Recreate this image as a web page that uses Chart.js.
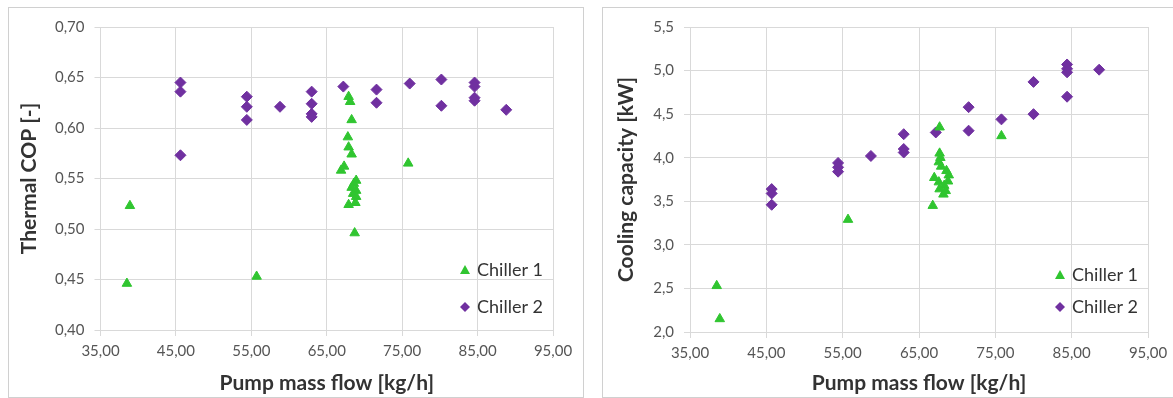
<!DOCTYPE html>
<html>
<head>
<meta charset="utf-8">
<script src="https://cdn.jsdelivr.net/npm/chart.js@4/dist/chart.umd.min.js"></script>
<style>
  body { margin: 0; background: #fff; width: 1173px; height: 398px; overflow: hidden; position: relative; }
  .panel { position: absolute; border: 1px solid #d0d0d0; width: 574px; height: 389px; }
  .panel canvas { position: absolute; left: 0; top: 0; }
  #p1 { left: 8px; top: 7px; }
  #p2 { left: 602px; top: 7px; }
</style>
</head>
<body>
<div class="panel" id="p1"><canvas id="copChart" width="574" height="389"></canvas></div>
<div class="panel" id="p2"><canvas id="capChart" width="574" height="389"></canvas></div>
<script>
// Data
const seriesNames = ['Chiller 1', 'Chiller 2'];

// Chiller 1 - pump mass flow [kg/h] vs thermal COP
const c1FlowCop = [38.5, 38.9, 55.7, 75.8, 67.9, 68.1, 68.3, 67.8, 67.9, 68.3, 66.9, 67.3, 68.9, 68.6, 68.3, 68.9, 68.5, 68.9, 67.9, 68.8, 68.7];
const c1Cop     = [0.446, 0.523, 0.453, 0.565, 0.631, 0.626, 0.608, 0.591, 0.581, 0.574, 0.558, 0.562, 0.548, 0.545, 0.541, 0.538, 0.535, 0.532, 0.524, 0.526, 0.496];

// Chiller 2 - pump mass flow [kg/h] vs thermal COP
const c2FlowCop = [45.6, 45.6, 45.6, 54.4, 54.4, 54.4, 58.8, 63.0, 63.0, 63.0, 63.0, 67.2, 71.6, 71.6, 76.0, 80.2, 80.2, 84.6, 84.6, 84.6, 84.6, 88.8];
const c2Cop     = [0.645, 0.636, 0.573, 0.631, 0.621, 0.608, 0.621, 0.636, 0.624, 0.614, 0.611, 0.641, 0.638, 0.625, 0.644, 0.648, 0.622, 0.645, 0.641, 0.630, 0.627, 0.618];

// Chiller 1 - pump mass flow [kg/h] vs cooling capacity [kW]
const c1FlowCap = [38.5, 38.9, 55.7, 75.8, 67.7, 67.7, 67.8, 67.6, 67.9, 68.6, 68.9, 67.0, 68.8, 67.6, 68.3, 67.7, 68.2, 68.5, 66.8];
const c1Cap     = [2.53, 2.15, 3.29, 4.25, 4.35, 4.05, 4.00, 3.95, 3.90, 3.85, 3.80, 3.77, 3.73, 3.72, 3.68, 3.64, 3.58, 3.62, 3.45];

// Chiller 2 - pump mass flow [kg/h] vs cooling capacity [kW]
const c2FlowCap = [45.7, 45.7, 45.7, 54.4, 54.4, 54.4, 58.7, 63.0, 63.0, 63.0, 67.2, 71.5, 71.5, 75.8, 80.0, 80.0, 84.4, 84.4, 84.4, 84.4, 88.6];
const c2Cap     = [3.64, 3.59, 3.46, 3.94, 3.89, 3.84, 4.02, 4.27, 4.10, 4.06, 4.29, 4.58, 4.31, 4.44, 4.87, 4.50, 5.07, 5.02, 4.98, 4.70, 5.01];

const xTitle = 'Pump mass flow [kg/h]';

const GREEN = '#30c530';
const PURPLE = '#7030a0';
const GRID = '#d9d9d9';
const TICK_COLOR = '#555555';
const TITLE_COLOR = '#333333';
const FONT = 'Lato, "Open Sans", sans-serif';

function toPoints(xs, ys) {
  return xs.map((x, i) => ({ x, y: ys[i] }));
}

function comma(v, digits) {
  return Number(v).toFixed(digits).replace('.', ',');
}

// legend drawn inside the plot area, bottom right
const innerLegend = {
  id: 'innerLegend',
  afterDraw(chart, args, opts) {
    const { ctx, chartArea } = chart;
    const mx = chartArea.right - 88;
    const rows = [chartArea.bottom - opts.row1, chartArea.bottom - opts.row2];
    ctx.save();
    ctx.font = '18px ' + FONT;
    ctx.textBaseline = 'middle';
    ctx.textAlign = 'left';
    chart.data.datasets.forEach((ds, i) => {
      const y = rows[i];
      ctx.fillStyle = ds.backgroundColor;
      ctx.beginPath();
      if (ds.pointStyle === 'triangle') {
        ctx.moveTo(mx, y - 5);
        ctx.lineTo(mx + 5, y + 4);
        ctx.lineTo(mx - 5, y + 4);
      } else {
        ctx.moveTo(mx, y - 5);
        ctx.lineTo(mx + 5, y);
        ctx.lineTo(mx, y + 5);
        ctx.lineTo(mx - 5, y);
      }
      ctx.closePath();
      ctx.fill();
      ctx.fillStyle = TITLE_COLOR;
      ctx.fillText(ds.label, mx + 12, y);
    });
    ctx.restore();
  }
};

function makeChart(id, c1, c2, opts) {
  return new Chart(document.getElementById(id), {
    type: 'scatter',
    data: {
      datasets: [
        {
          label: seriesNames[0],
          data: c1,
          pointStyle: 'triangle',
          pointRadius: 5.5,
          borderWidth: 1,
          backgroundColor: GREEN,
          borderColor: GREEN
        },
        {
          label: seriesNames[1],
          data: c2,
          pointStyle: 'rectRot',
          pointRadius: 5.5,
          borderWidth: 1,
          backgroundColor: PURPLE,
          borderColor: PURPLE
        }
      ]
    },
    options: {
      responsive: false,
      animation: false,
      events: [],
      layout: { padding: { top: 14, right: opts.padRight, left: 0, bottom: 0 } },
      plugins: {
        legend: { display: false },
        tooltip: { enabled: false },
        innerLegend: { row1: opts.row1, row2: opts.row2 }
      },
      scales: {
        x: {
          type: 'linear',
          min: 35,
          max: 95,
          afterBuildTicks: s => { s.ticks = [35, 45, 55, 65, 75, 85, 95].map(v => ({ value: v })); },
          afterFit: s => { s.height = opts.xHeight; },
          grid: { color: GRID, lineWidth: 1, tickLength: 6, tickColor: GRID },
          border: { color: GRID },
          ticks: {
            color: TICK_COLOR,
            font: { family: FONT, size: 15 },
            padding: 6,
            maxRotation: 0,
            callback: v => comma(v, 2)
          },
          title: {
            display: true,
            text: xTitle,
            color: TITLE_COLOR,
            font: { family: FONT, size: 21, weight: 'bold' },
            padding: { top: 0, bottom: 1 }
          }
        },
        y: {
          type: 'linear',
          min: opts.yMin,
          max: opts.yMax,
          afterBuildTicks: s => { s.ticks = opts.yTicks.map(v => ({ value: v })); },
          afterFit: s => { s.width = opts.yWidth; },
          grid: { color: GRID, lineWidth: 1, tickLength: 6, tickColor: GRID },
          border: { color: GRID },
          ticks: {
            color: TICK_COLOR,
            font: { family: FONT, size: 15 },
            padding: 10,
            callback: v => comma(v, opts.yDigits)
          },
          title: {
            display: true,
            text: opts.yTitle,
            color: TITLE_COLOR,
            font: { family: FONT, size: 21, weight: 'bold' },
            padding: { top: opts.yTitlePad, bottom: 0 }
          }
        }
      }
    },
    plugins: [innerLegend]
  });
}

makeChart('copChart', toPoints(c1FlowCop, c1Cop), toPoints(c2FlowCop, c2Cop), {
  yMin: 0.40, yMax: 0.70, yTicks: [0.40, 0.45, 0.50, 0.55, 0.60, 0.65, 0.70], yDigits: 2,
  yTitle: 'Thermal COP [-]', yWidth: 91.5, xHeight: 67, padRight: 30, yTitlePad: 8,
  row1: 60, row2: 23
});

makeChart('capChart', toPoints(c1FlowCap, c1Cap), toPoints(c2FlowCap, c2Cap), {
  yMin: 2.0, yMax: 5.5, yTicks: [2.0, 2.5, 3.0, 3.5, 4.0, 4.5, 5.0, 5.5], yDigits: 1,
  yTitle: 'Cooling capacity [kW]', yWidth: 87, xHeight: 65, padRight: 29, yTitlePad: 11,
  row1: 57, row2: 25
});
</script>
</body>
</html>
